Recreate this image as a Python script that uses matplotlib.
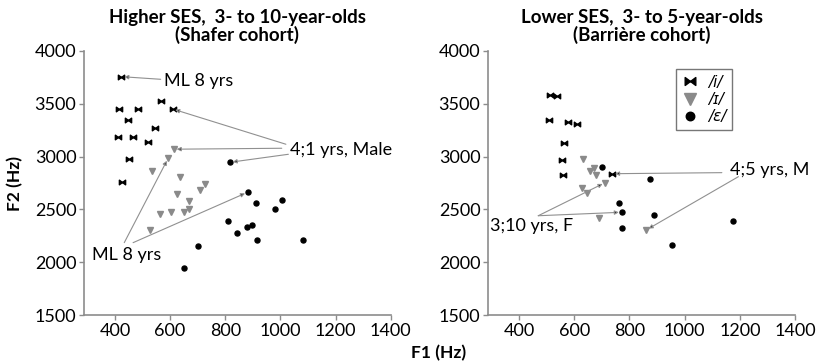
import numpy as np
import matplotlib
matplotlib.use('Agg')
import matplotlib.pyplot as plt
from matplotlib.path import Path

plt.rcParams['font.family'] = ['Lato', 'DejaVu Sans']

# Higher SES (Shafer cohort): F1, F2 in Hz
hi_i_f1 = [424, 569, 416, 485, 609, 448, 546, 412, 464, 521, 452, 425]
hi_i_f2 = [3757, 3529, 3448, 3448, 3451, 3347, 3268, 3186, 3189, 3138, 2977, 2757]
hi_I_f1 = [614, 593, 534, 636, 725, 708, 624, 668, 562, 603, 650, 667, 527]
hi_I_f2 = [3070, 2984, 2867, 2805, 2745, 2688, 2645, 2582, 2454, 2475, 2480, 2502, 2305]
hi_e_f1 = [817, 881, 910, 1005, 979, 809, 844, 878, 897, 914, 1083, 700, 650]
hi_e_f2 = [2946, 2662, 2558, 2592, 2501, 2390, 2277, 2333, 2349, 2207, 2210, 2155, 1948]

# Lower SES (Barriere cohort)
lo_i_f1 = [512, 537, 510, 577, 609, 564, 555, 558, 738]
lo_i_f2 = [3586, 3574, 3344, 3328, 3306, 3132, 2965, 2829, 2838]
lo_I_f1 = [633, 658, 673, 679, 627, 646, 712, 691, 861]
lo_I_f2 = [2974, 2867, 2889, 2826, 2706, 2658, 2753, 2416, 2305]
lo_e_f1 = [702, 876, 764, 772, 772, 890, 1177, 956]
lo_e_f2 = [2902, 2785, 2563, 2473, 2327, 2444, 2387, 2160]

xticks = [400, 600, 800, 1000, 1200, 1400]
yticks = [1500, 2000, 2500, 3000, 3500, 4000]

bowtie = Path([(-1, -0.75), (0, 0), (-1, 0.75), (-1, -0.75),
               (1, -0.75), (0, 0), (1, 0.75), (1, -0.75)],
              [Path.MOVETO, Path.LINETO, Path.LINETO, Path.CLOSEPOLY,
               Path.MOVETO, Path.LINETO, Path.LINETO, Path.CLOSEPOLY])

tri_col = '#8a8a8a'
spine_col = '#8c8c8c'
fs = 13


def style_axes(ax, title):
    ax.set_xlim(288, 1400)
    ax.set_ylim(1500, 4000)
    ax.set_xticks(xticks)
    ax.set_yticks(yticks)
    for s in ['top', 'right']:
        ax.spines[s].set_visible(False)
    for s in ['left', 'bottom']:
        ax.spines[s].set_color(spine_col)
        ax.spines[s].set_linewidth(1.2)
    ax.tick_params(colors=spine_col, labelcolor='black', labelsize=fs,
                   length=3.5, width=1.0, pad=2)
    ax.set_title(title, fontsize=13.5, fontweight='bold', pad=7,
                 linespacing=1.0)


def plot_vowels(ax, i1, i2, I1, I2, e1, e2):
    ax.plot(i1, i2, ls='none', marker=bowtie, ms=4.5, color='black',
            label='/i/')
    ax.plot(I1, I2, ls='none', marker='v', ms=5, color=tri_col,
            label='/ɪ/')
    ax.plot(e1, e2, ls='none', marker='o', ms=3.6, color='black',
            label='/ɛ/')


def pointer(ax, start, target):
    ax.annotate('', xy=target, xytext=start,
                arrowprops=dict(arrowstyle='-|>', ec='#909090', fc='#222222',
                                lw=0.8, mutation_scale=6,
                                shrinkA=0, shrinkB=2))


fig = plt.figure(figsize=(8.17, 3.64), dpi=100)
ax1 = fig.add_axes([0.1028, 0.1346, 0.3754, 0.7253])
ax2 = fig.add_axes([0.5973, 0.1346, 0.3758, 0.7253])

plot_vowels(ax1, hi_i_f1, hi_i_f2, hi_I_f1, hi_I_f2, hi_e_f1, hi_e_f2)
style_axes(ax1, 'Higher SES,  3- to 10-year-olds\n(Shafer cohort)')

ax1.text(578, 3720, 'ML 8 yrs', fontsize=fs, va='center', ha='left')
pointer(ax1, (566, 3732), (hi_i_f1[0], hi_i_f2[0]))
ax1.text(1036, 3062, '4;1 yrs, Male', fontsize=fs, va='center', ha='left')
pointer(ax1, (1020, 3117), (hi_i_f1[4], hi_i_f2[4]))
pointer(ax1, (1005, 3079), (hi_I_f1[0], hi_I_f2[0]))
pointer(ax1, (1029, 3022), (hi_e_f1[0], hi_e_f2[0]))
ax1.text(316, 2068, 'ML 8 yrs', fontsize=fs, va='center', ha='left')
pointer(ax1, (434, 2185), (hi_I_f1[1], hi_I_f2[1]))
pointer(ax1, (466, 2185), (hi_e_f1[1], hi_e_f2[1]))

plot_vowels(ax2, lo_i_f1, lo_i_f2, lo_I_f1, lo_I_f2, lo_e_f1, lo_e_f2)
style_axes(ax2, 'Lower SES,  3- to 5-year-olds\n(Barrière cohort)')

ax2.text(296, 2346, '3;10 yrs, F', fontsize=fs, va='center', ha='left')
pointer(ax2, (470, 2440), (lo_I_f1[6], lo_I_f2[6]))
pointer(ax2, (470, 2440), (lo_e_f1[3], lo_e_f2[3]))
ax2.text(1163, 2873, '4;5 yrs, M', fontsize=fs, va='center', ha='left')
pointer(ax2, (1135, 2848), (lo_i_f1[8], lo_i_f2[8]))
pointer(ax2, (1195, 2810), (lo_I_f1[8], lo_I_f2[8]))

h, l = ax2.get_legend_handles_labels()
leg = ax2.legend(h, l, loc='upper left', bbox_to_anchor=(0.611, 0.93),
                 frameon=True, fancybox=False, markerscale=1.7,
                 prop=dict(family='DejaVu Sans', size=11, style='italic'),
                 handlelength=1.2, handletextpad=0.6, labelspacing=0.15,
                 borderpad=0.35, borderaxespad=0)
leg.get_frame().set_edgecolor('#555555')
leg.get_frame().set_linewidth(1.0)

fig.text(0.018, 0.497, 'F2 (Hz)', rotation=90, fontsize=12.5,
         fontweight='bold', ha='center', va='center')
fig.text(0.537, 0.03, 'F1 (Hz)', fontsize=12.5, fontweight='bold',
         ha='center', va='center')

fig.savefig('out.png', dpi=100)
